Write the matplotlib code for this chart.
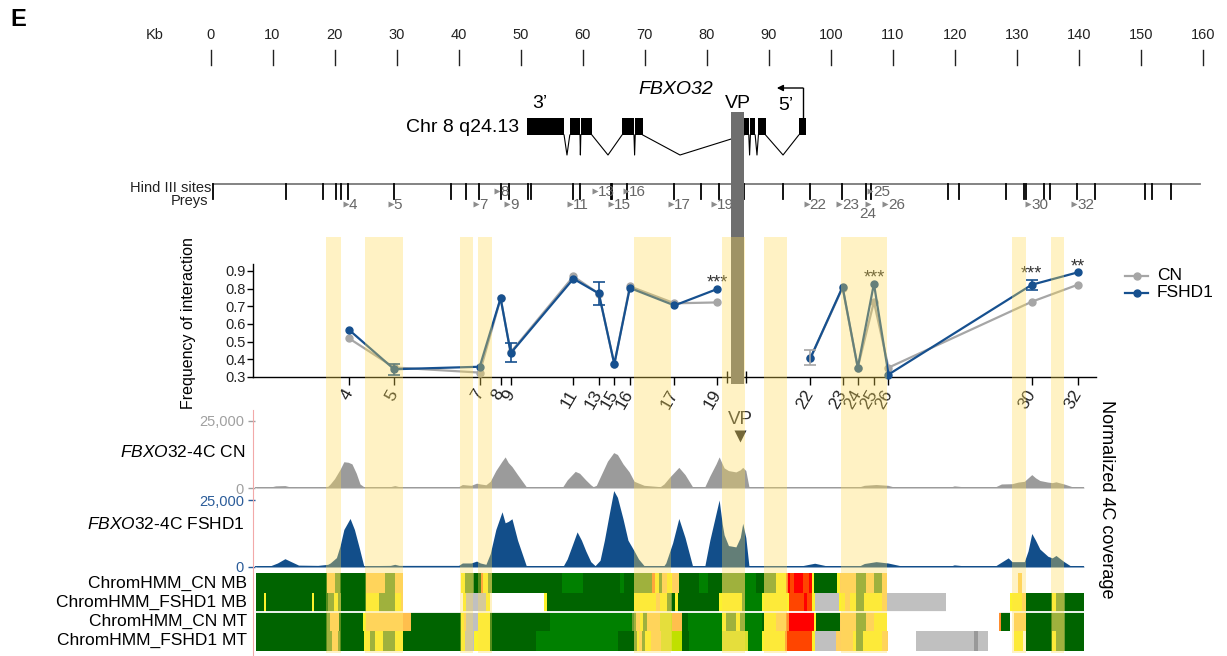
import matplotlib
matplotlib.use('Agg')
import matplotlib.pyplot as plt
from matplotlib.patches import Rectangle
import numpy as np

plt.rcParams['font.family'] = ['Liberation Sans', 'DejaVu Sans']
plt.rcParams['mathtext.fontset'] = 'custom'
plt.rcParams['mathtext.rm'] = 'Liberation Sans'
plt.rcParams['mathtext.it'] = 'Liberation Sans:italic'

# ---------------- data ----------------
kb_ticks = [0, 10, 20, 30, 40, 50, 60, 70, 80, 90, 100, 110, 120, 130, 140, 150, 160]

exons_start = [51.1, 57.92, 59.7, 66.34, 68.47, 86.0, 87.04, 88.33, 94.84]
exons_end = [57.0, 59.57, 61.49, 68.27, 69.69, 86.78, 87.81, 89.49, 96.0]
intron_apex = [57.47, 59.63, 64.08, 68.37, 75.69, 86.91, 88.1, 92.3]
tss_kb = 95.5
tss_arrow_end_kb = 91.3

hind3_sites = [0.4, 12.25, 18.1, 20.2, 21.0, 22.1, 29.6, 38.7, 41.2, 43.3, 46.8, 48.2,
               51.2, 51.7, 58.4, 59.6, 64.5, 64.8, 67.1, 74.7, 79.0, 81.9, 86.0, 92.3,
               96.6, 101.8, 105.7, 106.5, 118.9, 120.6, 128.2, 131.1, 131.4, 134.4,
               135.4, 139.7, 142.6, 150.6, 151.8, 154.8]

prey_ids = ['4', '5', '7', '8', '9', '11', '13', '15', '16', '17', '19',
            '22', '23', '24', '25', '26', '30', '32']
prey_kb = [22.36, 29.6, 43.4, 46.77, 48.4, 58.5, 62.6, 65.1, 67.6, 74.8, 81.7,
           96.7, 101.9, 104.35, 106.95, 109.3, 132.4, 139.8]
prey_row = ['low', 'low', 'low', 'up', 'low', 'low', 'up', 'low', 'up', 'low', 'low',
            'low', 'low', 'below', 'up', 'low', 'low', 'low']
prey_segment = [0, 0, 0, 0, 0, 0, 0, 0, 0, 0, 0, 1, 1, 1, 1, 1, 1, 1]

freq_cn = [0.518, 0.354, 0.325, 0.745, 0.44, 0.869, 0.772, 0.373, 0.813, 0.717, 0.722,
           0.405, 0.805, 0.353, 0.726, 0.353, 0.726, 0.822]
freq_fshd1 = [0.566, 0.344, 0.358, 0.746, 0.435, 0.856, 0.773, 0.373, 0.804, 0.705, 0.798,
              0.406, 0.81, 0.353, 0.828, 0.314, 0.822, 0.892]

err_prey = ['5', '9', '13', '22', '30']
err_series = ['FSHD1', 'FSHD1', 'FSHD1', 'CN', 'FSHD1']
err_lo = [0.313, 0.385, 0.71, 0.366, 0.795]
err_hi = [0.373, 0.49, 0.835, 0.45, 0.847]

sig_prey = ['19', '25', '30', '32']
sig_label = ['***', '***', '***', '**']

band_start = [18.70, 24.91, 40.22, 43.06, 68.31, 82.43, 89.23, 101.65, 129.21, 135.44]
band_end = [20.99, 30.97, 42.37, 45.35, 74.30, 86.14, 92.88, 109.0, 131.41, 137.64]
vp_kb = (83.91, 86.01)

cn_cov_kb = [7.3, 9.7, 10.5, 12.0, 12.7, 14.2, 17.3, 18.9, 19.3, 20.0, 20.9, 21.5, 22.2, 22.8,
             23.5, 24.1, 24.7, 29.0, 29.7, 30.4, 40.0, 40.6, 42.0, 42.9, 43.5, 44.4, 45.1,
             46.0, 47.0, 47.5, 48.0, 48.6, 49.5, 50.9, 56.8, 57.5, 58.8, 59.5, 60.5, 61.3,
             61.7, 62.2, 63.0, 64.0, 65.0, 65.6, 66.5, 67.5, 68.3, 69.9, 72.5, 73.1, 74.0,
             75.5, 76.5, 77.7, 79.7, 80.5, 81.5, 82.0, 82.5, 82.8, 83.5, 84.7, 85.4, 85.8,
             86.3, 86.8, 104.7, 105.4, 107.3, 109.2, 110.0, 119.5, 119.9, 121.2, 126.6,
             127.5, 129.2, 130.2, 131.2, 132.4, 133.0, 133.7, 135.0, 135.7, 136.3, 137.6,
             138.9, 140.8]
cn_cov_k = [0.3, 0.4, 0.8, 0.9, 0.5, 0.4, 0.4, 0.6, 1.5, 3.5, 7.0, 9.8, 9.6, 9.0,
            5.5, 1.5, 0.5, 0.5, 0.9, 0.5, 0.5, 1.3, 1.0, 1.8, 1.5, 1.2, 2.5,
            6.5, 10.0, 11.6, 9.5, 8.0, 5.0, 0.5, 0.5, 3.0, 6.2, 5.5, 3.0, 1.2,
            0.5, 1.0, 5.0, 10.0, 13.2, 12.5, 9.0, 6.0, 2.5, 1.0, 0.5, 1.5, 4.0,
            7.7, 5.0, 0.5, 0.5, 4.5, 9.0, 11.6, 9.0, 7.5, 6.5, 6.0, 6.8, 7.7,
            6.5, 0.5, 0.5, 1.0, 1.3, 1.0, 0.5, 0.5, 0.8, 0.5, 0.5,
            1.5, 1.6, 2.2, 2.5, 5.0, 3.8, 2.8, 2.2, 2.0, 2.3, 1.5,
            0.5, 0.3]

fshd_cov_kb = [7.3, 9.7, 10.8, 12.0, 13.0, 14.2, 17.3, 18.9, 19.3, 20.3, 20.9, 21.5, 22.5,
               23.2, 24.0, 24.7, 29.0, 29.7, 30.4, 40.0, 40.6, 42.0, 42.9, 43.5, 44.4, 45.1,
               46.0, 47.0, 47.5, 48.0, 48.6, 49.5, 50.9, 56.9, 57.5, 58.3, 59.1, 59.8, 60.5,
               61.3, 62.0, 62.8, 63.5, 64.3, 65.0, 65.6, 66.5, 67.3, 68.3, 69.0, 69.9, 73.1,
               73.4, 74.5, 75.5, 76.5, 77.7, 79.7, 80.5, 81.5, 82.0, 82.5, 82.8, 83.5, 84.7,
               85.4, 85.8, 86.3, 86.8, 95.4, 96.5, 97.4, 99.2, 104.7, 105.4, 107.3, 109.2,
               111.2, 119.5, 119.9, 121.2, 126.6, 127.5, 128.6, 129.2, 131.2, 131.8, 132.4,
               133.0, 133.7, 135.0, 135.7, 136.3, 137.6, 138.6, 140.8]
fshd_cov_k = [0.3, 0.5, 1.5, 3.1, 2.0, 0.7, 0.6, 1.0, 1.5, 3.5, 8.0, 14.0, 18.1,
              14.0, 7.0, 0.5, 0.6, 1.0, 0.6, 0.6, 1.5, 1.5, 2.2, 1.5, 1.0, 5.0,
              14.0, 20.6, 16.5, 17.0, 18.0, 10.0, 0.5, 0.5, 3.0, 8.0, 13.1, 10.0, 6.0,
              2.0, 0.5, 2.5, 10.0, 20.0, 28.5, 26.0, 18.0, 10.0, 6.0, 3.0, 0.5, 0.5,
              1.5, 9.0, 18.1, 11.0, 0.5, 0.5, 10.0, 20.0, 25.0, 16.0, 12.0, 8.0, 7.5,
              11.0, 16.3, 11.0, 0.5, 0.5, 1.0, 1.4, 0.5, 0.5, 1.3, 2.0, 1.5,
              0.5, 0.5, 0.8, 0.5, 0.5, 1.8, 3.4, 2.0, 2.0, 6.0, 12.5,
              10.0, 6.7, 4.0, 3.4, 4.3, 2.0, 0.5, 0.3]

chromhmm_rows = ['ChromHMM_CN MB', 'ChromHMM_FSHD1 MB', 'ChromHMM_CN MT', 'ChromHMM_FSHD1 MT']
DG, G, OL, Y, LO, LO2, OR, RO, R, GR, DGR, YG, YG2 = (
    '#006400', '#008000', '#6E9B32', '#FCF22C', '#FFD060', '#FFBF4D', '#FF8C2E',
    '#FF4500', '#FF0000', '#C0C0C0', '#999999', '#D8E030', '#C0E000')
chrom_cn_mb = [(7.34, 18.85, DG), (18.85, 20.12, LO), (20.12, 20.88, OL), (20.88, 25.02, DG),
               (25.02, 28.21, LO), (28.21, 29.81, OL), (29.81, 31.08, LO), (40.32, 40.96, Y),
               (40.96, 42.56, OL), (42.56, 43.6, DG), (43.6, 44.0, OR), (44.0, 44.74, Y),
               (44.74, 45.38, OL), (45.38, 56.59, DG), (56.59, 60.05, G), (60.05, 66.02, DG),
               (66.02, 66.66, G), (66.66, 68.27, DG), (68.27, 71.18, OL), (71.18, 71.66, OR),
               (71.66, 72.3, Y), (72.3, 72.79, OL), (72.79, 73.6, LO), (73.6, 74.4, Y),
               (74.4, 75.53, LO), (75.53, 78.75, DG), (78.75, 80.2, G), (80.2, 82.47, DG),
               (82.47, 86.17, OL), (86.17, 87.94, G), (87.94, 89.23, DG), (89.23, 91.16, OL),
               (91.16, 92.77, Y), (92.77, 93.1, OR), (93.1, 93.42, R), (93.42, 94.07, RO),
               (94.07, 95.52, R), (95.52, 96.49, RO), (96.49, 96.97, R), (96.97, 97.29, Y),
               (97.29, 101.0, DG), (101.0, 101.49, Y), (101.49, 104.07, LO), (104.07, 105.68, OL),
               (105.68, 106.97, LO), (106.97, 108.26, OL), (108.26, 109.06, LO),
               (130.18, 130.83, LO)]
chrom_fshd1_mb = [(7.34, 8.7, DG), (8.7, 8.95, Y), (8.95, 16.4, DG), (16.4, 16.65, Y),
                  (16.65, 18.94, DG), (18.94, 19.91, OL), (19.91, 20.55, Y), (20.55, 21.04, OL),
                  (21.04, 25.02, DG), (25.02, 27.13, Y), (27.13, 29.81, OL), (29.81, 30.76, Y),
                  (30.76, 31.08, LO), (40.64, 41.16, Y), (41.16, 44.41, GR), (44.41, 45.11, Y),
                  (53.72, 54.17, Y), (54.17, 68.27, DG), (68.27, 71.82, Y), (71.82, 72.47, LO),
                  (72.47, 73.6, Y), (73.6, 74.4, OL), (74.4, 74.9, DG), (74.9, 75.3, Y),
                  (75.3, 81.98, DG), (81.98, 85.69, Y), (85.69, 86.17, OL), (86.17, 88.91, G),
                  (88.91, 93.26, Y), (93.26, 95.6, RO), (95.6, 96.2, R), (96.2, 96.97, RO),
                  (96.97, 97.45, Y), (97.45, 101.33, GR), (101.33, 102.29, Y), (102.29, 103.1, LO),
                  (103.1, 104.07, Y), (104.07, 105.36, OL), (105.36, 108.26, Y),
                  (108.26, 109.06, LO), (109.06, 118.58, GR), (128.89, 130.83, Y),
                  (130.83, 131.47, LO), (131.47, 135.66, DG), (135.66, 136.31, Y),
                  (136.31, 137.76, OL), (137.76, 140.82, DG)]
chrom_cn_mt = [(7.34, 18.85, DG), (18.85, 19.3, OL), (19.3, 20.76, LO), (20.76, 24.59, DG),
               (24.59, 25.02, Y), (25.02, 31.08, LO), (31.08, 32.36, LO2), (32.36, 40.32, DG),
               (40.32, 40.8, Y), (40.8, 41.2, LO), (41.2, 43.19, GR), (43.19, 45.11, Y),
               (45.11, 54.67, DG), (54.67, 67.95, G), (67.95, 68.6, OL), (68.6, 69.24, LO),
               (69.24, 69.73, Y), (69.73, 70.37, OL), (70.37, 72.47, LO), (72.47, 74.4, YG),
               (74.4, 76.02, LO2), (76.02, 76.98, DG), (76.98, 82.47, G), (82.47, 83.11, Y),
               (83.11, 84.72, OL), (84.72, 85.37, Y), (85.37, 86.17, OL), (86.17, 88.91, G),
               (88.91, 89.23, DG), (89.23, 91.16, Y), (91.16, 92.77, LO), (92.77, 93.26, OR),
               (93.26, 97.29, R), (97.29, 97.61, Y), (97.61, 101.49, DG), (101.49, 104.07, LO),
               (104.07, 105.68, OL), (105.68, 106.97, LO), (106.97, 109.06, Y),
               (127.12, 127.44, OR), (127.44, 128.89, DG), (129.54, 131.47, LO),
               (131.47, 135.66, DG), (135.66, 137.76, OL), (137.76, 140.82, DG)]
chrom_fshd1_mt = [(7.34, 18.85, DG), (18.85, 19.6, OL), (19.6, 20.55, LO), (20.55, 20.88, OL),
                  (20.88, 24.71, DG), (24.71, 25.67, Y), (25.67, 26.49, OL), (26.49, 27.78, Y),
                  (27.78, 29.81, OL), (29.81, 31.08, Y), (31.08, 40.32, DG), (40.32, 40.96, Y),
                  (40.96, 42.56, GR), (42.56, 45.11, Y), (45.11, 52.44, DG), (52.44, 65.7, G),
                  (65.7, 68.27, DG), (68.27, 68.7, OL), (68.7, 69.1, Y), (69.1, 69.5, LO),
                  (69.5, 70.1, OL), (70.1, 71.0, Y), (71.0, 72.63, LO), (72.63, 74.4, YG),
                  (74.4, 76.02, YG2), (76.02, 77.14, DG), (77.14, 82.47, G), (82.47, 86.65, YG),
                  (86.65, 88.91, G), (88.91, 92.61, Y), (92.61, 93.0, OR), (93.0, 96.97, RO),
                  (96.97, 97.45, Y), (97.45, 100.84, GR), (100.84, 103.5, LO), (103.5, 104.07, Y),
                  (104.07, 105.19, OL), (105.19, 108.26, Y), (108.26, 109.22, LO),
                  (113.74, 123.09, GR), (123.09, 123.73, DGR), (123.73, 125.35, GR),
                  (129.54, 130.99, Y), (131.47, 135.66, DG), (135.66, 136.31, Y),
                  (136.31, 137.76, OL), (137.76, 140.82, DG)]
chrom_tracks = [chrom_cn_mb, chrom_fshd1_mb, chrom_cn_mt, chrom_fshd1_mt]

# ---------------- layout helpers ----------------
W, H = 1227, 656
KB0_PX, PX_PER_KB = 210.5, 6.203


def px2kb(px):
    return (px - KB0_PX) / PX_PER_KB


def fx(px):
    return px / W


def fy(py):
    return 1 - py / H


CN_COLOR = '#A6A6A6'
FSHD_COLOR = '#16508F'
TXT = '#222222'

fig = plt.figure(figsize=(W / 100, H / 100), dpi=100)

# ---------------- line chart ----------------
ax1 = fig.add_axes([fx(253), fy(377), fx(1096) - fx(253), (377 - 264) / H])
ax1.set_xlim(px2kb(253), px2kb(1096))
ax1.set_ylim(0.3, 0.3 + 113 / 176.7)
for series, color in ((freq_cn, CN_COLOR), (freq_fshd1, FSHD_COLOR)):
    for seg in (0, 1):
        xs = [k for k, s in zip(prey_kb, prey_segment) if s == seg]
        ys = [v for v, s in zip(series, prey_segment) if s == seg]
        ax1.plot(xs, ys, '-o', color=color, lw=1.6, ms=5, clip_on=False, zorder=3)
for p, s, lo, hi in zip(err_prey, err_series, err_lo, err_hi):
    i = prey_ids.index(p)
    color = FSHD_COLOR if s == 'FSHD1' else CN_COLOR
    mid = (freq_fshd1 if s == 'FSHD1' else freq_cn)[i]
    ax1.errorbar([prey_kb[i]], [mid], yerr=[[mid - lo], [hi - mid]], fmt='none',
                 ecolor=color, elinewidth=1.2, capsize=4, capthick=1.2, zorder=4, clip_on=False)
for p, lab in zip(sig_prey, sig_label):
    i = prey_ids.index(p)
    top = max(freq_fshd1[i], freq_cn[i])
    if p in err_prey:
        top = max(top, err_hi[err_prey.index(p)])
    ax1.annotate(lab, (prey_kb[i], top), xytext=(0, 1), textcoords='offset points',
                 ha='center', va='baseline', fontsize=13, color='#333333')
ax1.spines['top'].set_visible(False)
ax1.spines['right'].set_visible(False)
ax1.spines['left'].set_linewidth(1.0)
ax1.spines['bottom'].set_linewidth(1.0)
ax1.set_yticks([0.3, 0.4, 0.5, 0.6, 0.7, 0.8, 0.9])
ax1.set_yticklabels(['0.3', '0.4', '0.5', '0.6', '0.7', '0.8', '0.9'], fontsize=10.5, color=TXT)
ax1.tick_params(axis='y', length=4, width=1, pad=1)
ax1.set_xticks(prey_kb)
ax1.set_xticklabels(prey_ids, fontsize=12.5, color=TXT, rotation=60,
                    ha='right', va='center', rotation_mode='anchor')
ax1.set_xticks([83.3, 86.3], minor=True)
ax1.tick_params(axis='x', which='major', length=6, width=1, pad=4)
ax1.tick_params(axis='x', which='minor', length=8, width=1, direction='inout')
ax1.patch.set_alpha(0)

# ---------------- coverage tracks ----------------
cov_specs = [(421, 488, cn_cov_kb, cn_cov_k, '#9B9B9B', '#A0A0A0'),
             (500, 567, fshd_cov_kb, fshd_cov_k, '#124E8A', '#2B5C99')]
for top, bot, xs, ys, fc, lc in cov_specs:
    ax = fig.add_axes([fx(255), fy(bot), fx(1084) - fx(255), (bot - top) / H])
    ax.set_xlim(px2kb(255), px2kb(1084))
    ax.set_ylim(0, 25)
    ax.fill_between(xs, ys, 0, color=fc, lw=0, clip_on=False)
    ax.axhline(0, color=fc, lw=1.4)
    for sp in ax.spines.values():
        sp.set_visible(False)
    ax.set_xticks([])
    ax.set_yticks([0, 25])
    ax.set_yticklabels(['0', '25,000'], fontsize=10.5, color=lc)
    ax.tick_params(axis='y', length=5, width=1, color=lc, pad=3)
    ax.patch.set_alpha(0)

# ---------------- ChromHMM ----------------
ax4 = fig.add_axes([fx(255), fy(650.7), fx(1084) - fx(255), (650.7 - 573.3) / H])
ax4.set_xlim(px2kb(255), px2kb(1084))
ax4.set_ylim(4, 0)
for r, segs in enumerate(chrom_tracks):
    ax4.barh([r + 0.5] * len(segs), [e - s for s, e, c in segs], left=[s for s, e, c in segs],
             height=1.0, color=[c for s, e, c in segs], linewidth=0)
ax4.axhline(2, color='white', lw=1.3)
ax4.axis('off')

# ---------------- overlay (genome annotations, bands) ----------------
ax0 = fig.add_axes([0, 0, 1, 1], zorder=10)
ax0.set_xlim(px2kb(0), px2kb(W))
ax0.set_ylim(H, 0)
ax0.axis('off')
ax0.patch.set_alpha(0)

# kb scale
for t in kb_ticks:
    ax0.text(t, 35, str(t), ha='center', va='center', fontsize=10.5, color=TXT)
    ax0.plot([t, t], [50, 65], color=TXT, lw=1.0)
ax0.text(px2kb(155), 35, 'Kb', ha='center', va='center', fontsize=10.5, color=TXT)

# gene model
EX_TOP, EX_BOT, V_BOT = 118, 135, 155
for s, e in zip(exons_start, exons_end):
    ax0.add_patch(Rectangle((s, EX_TOP), e - s, EX_BOT - EX_TOP, facecolor='black', lw=0))
for i, apex in enumerate(intron_apex):
    ax0.plot([exons_end[i], apex, exons_start[i + 1]], [EX_BOT, V_BOT, EX_BOT], color='black', lw=0.8)
ax0.plot([tss_kb, tss_kb], [EX_TOP, 88], color='black', lw=1.0)
ax0.annotate('', xy=(tss_arrow_end_kb, 88), xytext=(tss_kb, 88),
             arrowprops=dict(arrowstyle='-|>', color='black', lw=1.0, mutation_scale=9,
                             shrinkA=0, shrinkB=0))
ax0.text(px2kb(540), 103, '3’', ha='center', va='center', fontsize=14, color='black')
ax0.text(px2kb(676), 90, 'FBXO32', ha='center', va='center', fontsize=14, style='italic', color='black')
ax0.text(px2kb(738), 103, 'VP', ha='center', va='center', fontsize=14, color='black')
ax0.text(px2kb(786), 106, '5’', ha='center', va='center', fontsize=14, color='black')
ax0.text(px2kb(519), 128, 'Chr 8 q24.13', ha='right', va='center', fontsize=14, color='black')

# HindIII sites and preys
ax0.plot([hind3_sites[0], px2kb(1200)], [184, 184], color='#7A7A7A', lw=1.3)
for h in hind3_sites:
    ax0.plot([h, h], [184, 199], color='black', lw=1.3)
ax0.text(px2kb(211), 188, 'Hind III sites', ha='right', va='center', fontsize=10.5, color=TXT)
ax0.text(px2kb(208), 201, 'Preys', ha='right', va='center', fontsize=10.5, color=TXT)
for pid, k, row in zip(prey_ids, prey_kb, prey_row):
    if row == 'up':
        ty, ly, lx, ha = 191, 192, k - 0.1, 'left'
        tx = k - 0.56
    elif row == 'below':
        ty, ly, lx, ha = 204, 214, k + 1.6, 'center'
        tx = k + 1.6
    else:
        ty, ly, lx, ha = 204, 205, k - 0.1, 'left'
        tx = k - 0.56
    ax0.plot(tx, ty, marker='>', ms=5, color='#8C8C8C', mec='none')
    ax0.text(lx, ly, pid, ha=ha, va='center', fontsize=11, color='#666666')

# axis titles / labels
ax0.text(px2kb(18), 20, 'E', ha='center', va='center', fontsize=17, fontweight='bold', color='black')
ax0.text(px2kb(188), 323, 'Frequency of interaction', ha='center', va='center', rotation=90,
         fontsize=11.5, color='black')
ax0.text(px2kb(1106), 499, 'Normalized 4C coverage', ha='center', va='center', rotation=270,
         fontsize=13, color='black')
ax0.text(px2kb(245), 452, r'$\mathit{FBXO32}$-4C CN', ha='right', va='center', fontsize=12.5, color='black')
ax0.text(px2kb(245), 524, r'$\mathit{FBXO32}$-4C FSHD1', ha='right', va='center', fontsize=12.5, color='black')
for r, name in enumerate(chromhmm_rows):
    ax0.text(px2kb(247), 583 + r * 19.3, name, ha='right', va='center', fontsize=12.5, color='black')
ax0.plot([px2kb(253.3)] * 2, [410, 656], color='#F2A9A9', lw=0.8)

# legend
for name, color, yy in (('CN', CN_COLOR, 276.0), ('FSHD1', FSHD_COLOR, 292.5)):
    ax0.plot([px2kb(1125), px2kb(1148)], [yy, yy], color=color, lw=1.6)
    ax0.plot(px2kb(1136.5), yy, 'o', color=color, ms=5)
    ax0.text(px2kb(1157), yy, name, ha='left', va='center', fontsize=12.5, color='black')

# VP marker
ax0.text(px2kb(740), 419, 'VP', ha='center', va='center', fontsize=13.5, color='#333333')
ax0.plot(px2kb(740), 436, marker='v', ms=9, color='#2B2B2B', mec='none')

# viewpoint bar
ax0.add_patch(Rectangle((vp_kb[0], 112), vp_kb[1] - vp_kb[0], 272, facecolor='#6E6E6E', lw=0, zorder=5))

# highlighted bands (semi-transparent overlay)
for s, e in zip(band_start, band_end):
    ax0.add_patch(Rectangle((s, 237), e - s, 416, facecolor=(1.0, 0.863, 0.33), alpha=0.345,
                            lw=0, zorder=20))

fig.savefig('out.png', dpi=100)
